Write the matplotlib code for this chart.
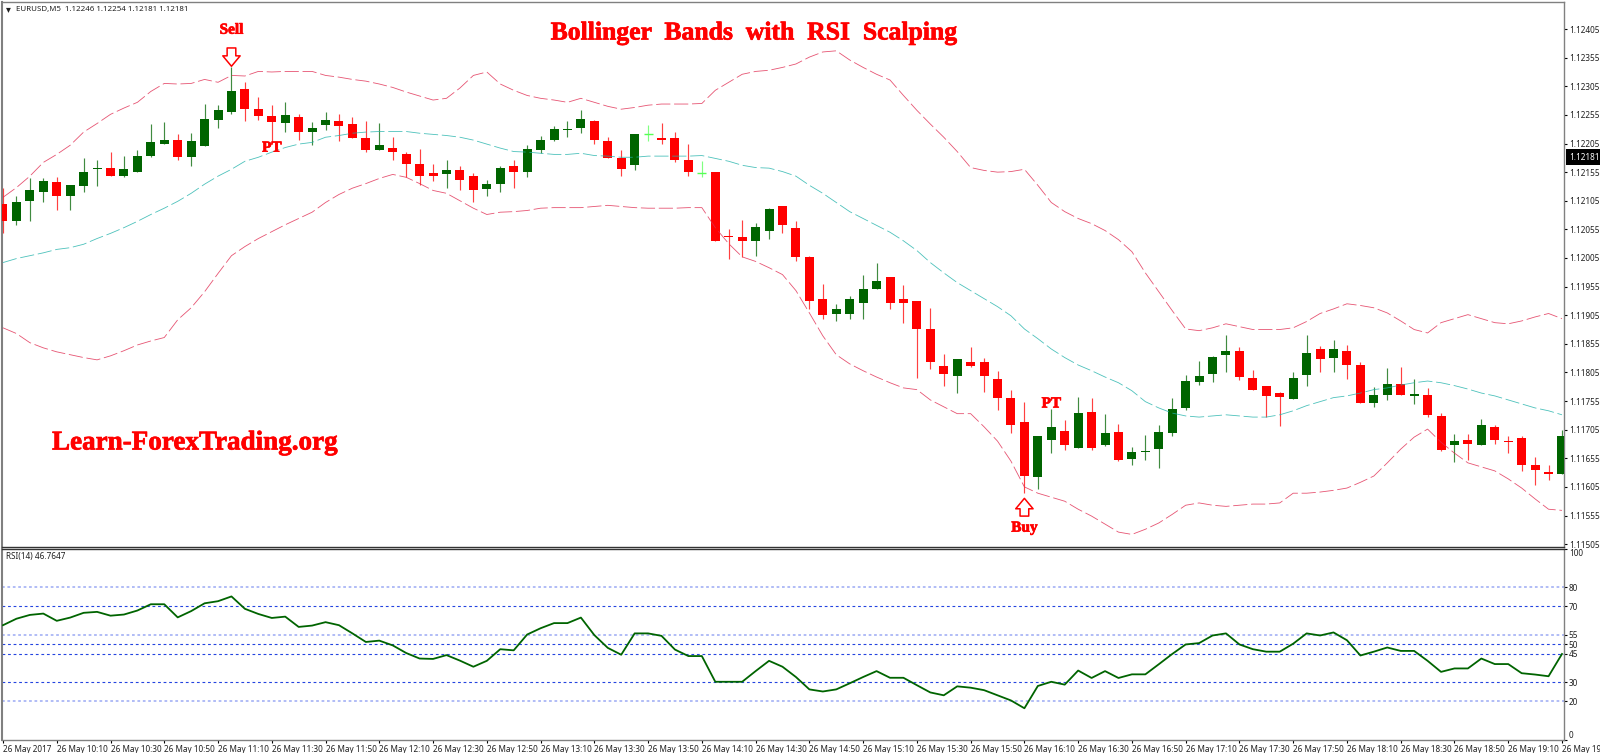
import numpy as np
import matplotlib
matplotlib.use("Agg")
import matplotlib.pyplot as plt
import matplotlib.patheffects as pe

# all prices are in points above 1.11500
BASE = 1.115

opens = [600, 570, 604, 620, 637, 614, 630, 660, 663, 649, 656, 683, 704, 711, 681, 700, 746, 760, 800, 765,
         753, 740, 751, 725, 737, 744, 739, 714, 693, 698, 686, 670, 653, 651, 658, 649, 625, 634, 665, 655,
         693, 712, 728, 733, 744, 709, 679, 667, 722, 714, 714, 677, 654, 656, 543, 541, 534, 553, 595, 557,
         506, 434, 408, 408, 427, 450, 471, 434, 430, 381, 317, 299, 324, 324, 294, 261, 218, 122, 187, 203,
         173, 236, 178, 201, 154, 166, 171, 199, 243, 289, 303, 336, 343, 296, 282, 269, 259, 301, 346, 331,
         343, 318, 252, 266, 285, 264, 266, 229, 178, 187, 178, 210, 185, 191, 143, 131, 127]
closes = [570, 602, 623, 639, 614, 632, 655, 663, 649, 660, 683, 707, 711, 681, 709, 747, 763, 796, 765, 753,
          742, 754, 725, 733, 746, 735, 714, 693, 702, 690, 669, 649, 648, 658, 642, 623, 635, 662, 656, 695,
          712, 730, 730, 747, 711, 679, 660, 721, 722, 712, 677, 655, 654, 535, 541, 534, 560, 590, 562, 507,
          430, 406, 415, 434, 450, 465, 427, 427, 381, 324, 303, 329, 317, 299, 261, 213, 124, 194, 210, 178,
          234, 173, 199, 152, 166, 168, 201, 241, 290, 299, 332, 343, 297, 275, 264, 262, 296, 339, 329, 346,
          318, 252, 266, 285, 266, 268, 231, 170, 185, 180, 213, 187, 183, 143, 134, 127, 194]
highs = [627, 614, 644, 644, 646, 632, 679, 676, 691, 684, 693, 739, 742, 721, 723, 774, 772, 838, 812, 786,
         772, 777, 756, 742, 760, 756, 751, 744, 740, 716, 691, 695, 669, 676, 665, 653, 641, 665, 676, 702,
         719, 735, 744, 763, 746, 716, 693, 721, 737, 740, 726, 704, 674, 656, 555, 572, 567, 593, 595, 569,
         509, 460, 425, 439, 476, 497, 471, 457, 430, 418, 338, 329, 350, 331, 308, 275, 253, 194, 241, 222,
         262, 261, 233, 215, 175, 196, 213, 261, 301, 325, 334, 371, 350, 310, 282, 271, 306, 371, 352, 362,
         353, 324, 280, 313, 315, 294, 278, 234, 197, 197, 224, 213, 194, 194, 157, 143, 205]
lows = [548, 563, 569, 602, 588, 588, 621, 630, 649, 646, 656, 681, 704, 677, 665, 700, 732, 756, 744, 746,
        707, 725, 712, 702, 728, 709, 714, 690, 693, 677, 646, 632, 639, 628, 623, 602, 614, 620, 627, 646,
        688, 709, 716, 723, 705, 679, 649, 658, 709, 704, 672, 649, 646, 535, 504, 506, 509, 539, 548, 499,
        416, 399, 395, 399, 399, 450, 416, 392, 296, 311, 282, 269, 315, 271, 240, 199, 94, 101, 164, 170,
        173, 170, 176, 150, 143, 152, 138, 194, 240, 283, 289, 306, 292, 275, 227, 212, 259, 282, 306, 306,
        294, 252, 245, 257, 266, 250, 227, 168, 148, 152, 178, 180, 164, 133, 108, 117, 127]

upper_band = [611, 628, 648, 672, 686, 702, 725, 740, 756, 767, 777, 796, 810, 809, 810, 817, 812, 824, 823, 831,
              830, 831, 831, 831, 824, 821, 817, 814, 809, 803, 795, 788, 781, 784, 802, 824, 830, 809, 798, 789,
              784, 781, 777, 784, 777, 770, 765, 768, 772, 774, 774, 774, 775, 798, 812, 826, 831, 833, 838, 844,
              856, 865, 867, 851, 838, 826, 816, 789, 763, 739, 716, 691, 663, 658, 655, 656, 660, 632, 602, 586,
              574, 565, 553, 537, 516, 479, 446, 413, 381, 378, 383, 390, 385, 380, 380, 380, 383, 394, 408, 416,
              425, 422, 418, 409, 395, 380, 374, 392, 399, 406, 399, 392, 390, 395, 402, 408, 399]
middle_band = [497, 504, 509, 514, 520, 523, 529, 539, 548, 558, 569, 581, 592, 604, 618, 634, 648, 660, 674, 681,
               690, 698, 704, 707, 716, 719, 723, 725, 726, 726, 726, 723, 721, 719, 716, 711, 704, 697, 691, 690,
               688, 686, 686, 688, 684, 683, 681, 681, 683, 683, 683, 683, 684, 679, 674, 667, 663, 662, 656, 648,
               632, 618, 602, 586, 574, 562, 550, 535, 518, 497, 479, 462, 448, 434, 420, 404, 381, 364, 346, 331,
               318, 308, 297, 287, 273, 254, 243, 234, 229, 227, 229, 231, 229, 227, 227, 231, 238, 247, 254, 261,
               264, 269, 275, 278, 283, 287, 290, 287, 282, 276, 269, 264, 257, 250, 243, 238, 231]
lower_band = [383, 373, 357, 348, 341, 336, 331, 327, 334, 343, 353, 360, 366, 397, 418, 446, 478, 509, 525, 539,
              551, 563, 574, 585, 602, 616, 627, 635, 644, 651, 646, 635, 623, 618, 605, 592, 581, 585, 586, 588,
              592, 593, 593, 593, 595, 597, 595, 593, 592, 592, 592, 593, 593, 558, 530, 507, 499, 488, 476, 448,
              409, 369, 336, 320, 308, 297, 287, 278, 275, 257, 245, 233, 233, 210, 185, 150, 105, 94, 87, 80,
              66, 54, 40, 26, 22, 31, 42, 57, 73, 77, 73, 71, 73, 75, 75, 77, 94, 94, 96, 99,
              103, 113, 124, 147, 171, 192, 206, 183, 164, 147, 140, 133, 119, 103, 84, 66, 64]

rsi = [60.0, 63.4, 65.4, 66.1, 62.3, 64.0, 66.5, 67.0, 65.0, 65.6, 67.7, 71.0, 71.0, 64.1, 67.4, 71.5, 72.6, 75.1, 68.6, 65.9,
       63.8, 64.5, 59.1, 59.8, 61.6, 60.0, 55.7, 51.2, 51.9, 49.4, 45.4, 42.5, 42.3, 44.3, 41.4, 38.2, 41.3, 47.4, 46.8, 55.1,
       58.4, 61.1, 61.1, 64.0, 54.8, 48.1, 44.5, 55.7, 55.7, 54.4, 47.2, 43.8, 43.8, 30.3, 30.3, 30.3, 35.9, 41.3, 38.2, 32.8,
       26.3, 25.2, 26.3, 29.5, 32.8, 35.9, 32.4, 32.4, 28.5, 24.7, 23.2, 27.9, 27.2, 25.9, 23.2, 20.5, 16.4, 28.1, 30.3, 28.8,
       36.2, 32.3, 35.9, 32.3, 34.2, 34.2, 39.5, 44.9, 49.9, 50.6, 54.6, 55.7, 49.9, 47.4, 46.1, 46.1, 50.3, 55.7, 54.6, 56.2,
       52.1, 44.1, 46.1, 48.3, 46.5, 46.5, 41.3, 35.5, 37.3, 37.3, 42.5, 39.6, 39.6, 34.8, 34.1, 33.2, 44.9]

rsi_levels = [20, 30, 45, 50, 55, 70, 80]
rsi_ticks = [0, 20, 30, 45, 50, 55, 70, 80, 100]
price_ticks = [1.11505 + 0.0005 * k for k in range(19)]
last_price = 1.12181
time_labels = ["26 May 2017", "26 May 10:10", "26 May 10:30", "26 May 10:50", "26 May 11:10", "26 May 11:30",
               "26 May 11:50", "26 May 12:10", "26 May 12:30", "26 May 12:50", "26 May 13:10", "26 May 13:30",
               "26 May 13:50", "26 May 14:10", "26 May 14:30", "26 May 14:50", "26 May 15:10", "26 May 15:30",
               "26 May 15:50", "26 May 16:10", "26 May 16:30", "26 May 16:50", "26 May 17:10", "26 May 17:30",
               "26 May 17:50", "26 May 18:10", "26 May 18:30", "26 May 18:50", "26 May 19:10", "26 May 19:30"]

W, H = 1600, 753
TICK_FONT = "Noto Sans"
TICK_SIZE = 5.9
SERIF = "Liberation Serif"
RED = "#ff0000"
GREEN = "#006400"
heavy = [pe.withStroke(linewidth=0.5, foreground=RED)]


def px_axes(fig, left, top, right, bottom):
    return fig.add_axes([left / W, 1 - bottom / H, (right - left) / W, (bottom - top) / H])


def price(points):
    return BASE + np.asarray(points, dtype=float) * 1e-5


fig = plt.figure(figsize=(W / 100, H / 100), dpi=100, facecolor="white")
ax = px_axes(fig, 2, 2, 1564, 547)
ax_rsi = px_axes(fig, 2, 549, 1564, 739.5)

bars = np.arange(len(opens))
x_lim = (-0.074, 116.15)

# candles
o, c, h, l = price(opens), price(closes), price(highs), price(lows)
colors = [GREEN if c[i] > o[i] else RED if c[i] < o[i] else "#55ff55" for i in bars]
ax.vlines(bars, l, h, colors=colors, lw=0.85, alpha=0.75, zorder=2)
ax.bar(bars, np.abs(c - o), bottom=np.minimum(o, c), width=0.67, color=colors, lw=0, zorder=3)
doji = o == c
ax.hlines(c[doji], bars[doji] - 0.335, bars[doji] + 0.335, colors="#55ff55", lw=1, zorder=3)

# bollinger bands
dash = (0, (17, 4.5))
ax.plot(bars, price(upper_band), color="#e0294f", lw=0.6, ls=dash, alpha=0.8, zorder=4)
ax.plot(bars, price(lower_band), color="#e0294f", lw=0.6, ls=dash, alpha=0.8, zorder=4)
ax.plot(bars, price(middle_band), color="#20b2aa", lw=0.6, ls=dash, alpha=0.8, zorder=4)

ax.set_xlim(x_lim)
ax.set_ylim(BASE, price(955.8 - 1.7513 * 2))
ax.set_xticks([])
ax.yaxis.tick_right()
ax.set_yticks(price_ticks)
ax.set_yticklabels([f"{t:.5f}" for t in price_ticks], fontsize=TICK_SIZE, family=TICK_FONT, color="#202020")
ax.tick_params(axis="y", length=2.5, width=0.8, pad=1)

# labels on the chart
for bar, pts, txt in [(17, 903, "Sell"), (76, 33, "Buy"), (20, 697, "PT"), (78, 250, "PT")]:
    ax.text(bar, price(pts), txt, color=RED, family=SERIF, weight="bold", fontsize=11, ha="center", va="center",
            zorder=5, path_effects=heavy)
arrow = dict(arrowstyle="simple,head_length=0.6,head_width=1.0,tail_width=0.5", fc="white", ec=RED,
             lw=1.1, shrinkA=0, shrinkB=0, mutation_scale=12.5)
ax.annotate("", xy=(17, price(840)), xytext=(17, price(872)), arrowprops=arrow, zorder=6)
ax.annotate("", xy=(76, price(85)), xytext=(76, price(54)), arrowprops=arrow, zorder=6)

# last price box
ax.annotate(f"{last_price:.5f}", xy=(1.0, last_price), xycoords=("axes fraction", "data"),
            xytext=(3.6, 0), textcoords="offset points", fontsize=TICK_SIZE, family=TICK_FONT, color="white",
            va="center", ha="left", annotation_clip=False,
            bbox=dict(boxstyle="square,pad=0.4", fc="black", ec="black", lw=0))

# rsi pane
for level in rsi_levels:
    if level in (20, 55, 80):
        ax_rsi.axhline(level, color="#7d90f0", lw=1.3, ls=(0, (1.5, 1.5)), alpha=0.65, zorder=1)
    else:
        ax_rsi.axhline(level, color="#2444e0", lw=0.8, ls=(0, (2.5, 2.5)), zorder=1)
ax_rsi.plot(bars, rsi, color=GREEN, lw=1.3, zorder=3)
ax_rsi.set_xlim(x_lim)
ax_rsi.set_ylim(0, 100)
ax_rsi.yaxis.tick_right()
ax_rsi.set_yticks(rsi_ticks)
ax_rsi.set_yticklabels(rsi_ticks, fontsize=TICK_SIZE, family=TICK_FONT, color="#202020")
ax_rsi.tick_params(axis="y", length=2.5, width=0.8, pad=1)
for lab, val in zip(ax_rsi.get_yticklabels(), rsi_ticks):
    if val == 0:
        lab.set_va("bottom")
    if val == 100:
        lab.set_va("top")
ax_rsi.set_xticks(bars[::4])
ax_rsi.set_xticklabels(time_labels, fontsize=TICK_SIZE, family=TICK_FONT, color="#202020", ha="left")
ax_rsi.tick_params(axis="x", length=2.5, width=0.8, pad=1.5)

for a in (ax, ax_rsi):
    for s in a.spines.values():
        s.set_color("#808080")
        s.set_linewidth(1.0)
ax.spines["left"].set_linewidth(1.5)
ax_rsi.spines["left"].set_linewidth(1.5)
ax.spines["bottom"].set_color("#333333")
ax_rsi.spines["top"].set_color("#333333")

# header texts
fig.text(8 / W, 1 - 9 / H, "\u25be", fontsize=7, family="DejaVu Sans", color="#202020", ha="center", va="center")
fig.text(16 / W, 1 - 9 / H, "EURUSD,M5  1.12246 1.12254 1.12181 1.12181", fontsize=TICK_SIZE - 0.2, family=TICK_FONT,
         color="#202020", ha="left", va="center")
fig.text(6 / W, 1 - 556.5 / H, "RSI(14) 46.7647", fontsize=TICK_SIZE, family=TICK_FONT, color="#202020", ha="left", va="center")
fig.text(755 / W, 1 - 33 / H, "Bollinger  Bands  with  RSI  Scalping", fontsize=18.5, family=SERIF, weight="bold",
         color=RED, ha="center", va="center", path_effects=heavy)
fig.text(52 / W, 1 - 443 / H, "Learn-ForexTrading.org", fontsize=19.5, family=SERIF, weight="bold",
         color=RED, ha="left", va="center", path_effects=heavy)

fig.savefig("out.png", dpi=100)
